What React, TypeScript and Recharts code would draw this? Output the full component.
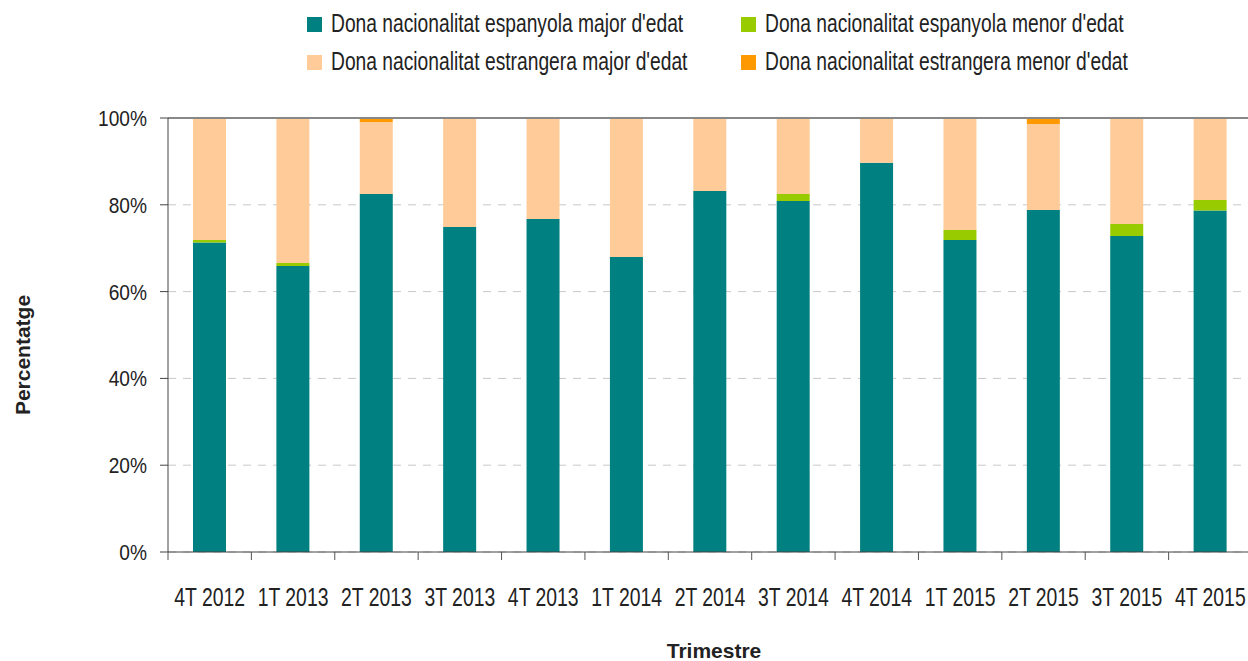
import React from "react";
import { BarChart, Bar, XAxis, YAxis, CartesianGrid, ReferenceLine } from "recharts";

const trimestres = ["4T 2012", "1T 2013", "2T 2013", "3T 2013", "4T 2013", "1T 2014", "2T 2014", "3T 2014", "4T 2014", "1T 2015", "2T 2015", "3T 2015", "4T 2015"];
const espMajor = [71.3, 65.9, 82.5, 74.9, 76.7, 68.0, 83.2, 80.9, 89.7, 71.9, 78.8, 72.8, 78.7];
const espMenor = [0.6, 0.7, 0, 0, 0, 0, 0, 1.6, 0, 2.3, 0, 2.8, 2.4];
const estMajor = [28.1, 33.4, 16.6, 25.1, 23.3, 32.0, 16.8, 17.5, 10.3, 25.8, 19.8, 24.4, 18.9];
const estMenor = [0, 0, 0.9, 0, 0, 0, 0, 0, 0, 0, 1.4, 0, 0];
const yTicks = [0, 20, 40, 60, 80, 100];

const series = [
  { key: "espMajor", name: "Dona nacionalitat espanyola major d'edat", color: "#008080" },
  { key: "espMenor", name: "Dona nacionalitat espanyola menor d'edat", color: "#99CC00" },
  { key: "estMajor", name: "Dona nacionalitat estrangera major d'edat", color: "#FFCC99" },
  { key: "estMenor", name: "Dona nacionalitat estrangera menor d'edat", color: "#FF9900" },
];

const data = trimestres.map((t, i) => ({
  t,
  espMajor: espMajor[i],
  espMenor: espMenor[i],
  estMajor: estMajor[i],
  estMenor: estMenor[i],
}));

// no Arial Narrow here, so squeeze Liberation Sans horizontally
const FONT = "'Liberation Sans', Arial, sans-serif";
const W = 1248;
const H = 661;
const CHART_W = 1252; // plot runs a little past the right edge in the original
const LEFT = 168;
const BAND = (CHART_W - LEFT) / trimestres.length;

// category ticks sit between bars, like the original
const XTick = (props: any) => {
  const { x, y, payload, index } = props;
  const left = x - BAND / 2;
  return (
    <g>
      <line x1={left} y1={y - 8} x2={left} y2={y} stroke="#555" strokeWidth={1} />
      {index === trimestres.length - 1 && (
        <line x1={left + BAND} y1={y - 8} x2={left + BAND} y2={y} stroke="#555" strokeWidth={1} />
      )}
      <text
        transform={`translate(${x},${y + 46}) scale(0.775,1)`}
        textAnchor="middle"
        fill="#222"
        fontSize={25}
        fontFamily={FONT}
      >
        {payload.value}
      </text>
    </g>
  );
};

const YTick = (props: any) => {
  const { y, payload } = props;
  return (
    <text
      transform={`translate(147,${y + 8}) scale(0.85,1)`}
      textAnchor="end"
      fill="#222"
      fontSize={22.5}
      fontFamily={FONT}
    >
      {`${payload.value}%`}
    </text>
  );
};

const legendPos = [
  { x: 307, y: 32 },
  { x: 741, y: 32 },
  { x: 307, y: 70 },
  { x: 741, y: 70 },
];

const App: React.FC = () => {
  return (
    <div style={{ position: "absolute", left: 0, top: 0, width: W, height: H, background: "#fff", fontFamily: FONT, overflow: "hidden" }}>
      <BarChart
        width={CHART_W}
        height={H}
        data={data}
        margin={{ top: 118, right: 0, left: 0, bottom: 79 }}
        barSize={33}
      >
        <CartesianGrid vertical={false} stroke="#c8c8c8" strokeDasharray="8 7" />
        <XAxis
          dataKey="t"
          interval={0}
          height={30}
          tickLine={false}
          axisLine={{ stroke: "#444" }}
          tick={<XTick />}
        />
        <YAxis
          width={LEFT}
          domain={[0, 100]}
          ticks={yTicks}
          axisLine={{ stroke: "#444" }}
          tickLine={{ stroke: "#444" }}
          tickSize={8}
          tick={<YTick />}
        />
        <ReferenceLine y={100} stroke="#888" strokeWidth={2} />
        {series.map((s) => (
          <Bar key={s.key} dataKey={s.key} stackId="a" fill={s.color} isAnimationActive={false} />
        ))}
      </BarChart>

      {/* legend */}
      <svg width={W} height={90} style={{ position: "absolute", left: 0, top: 0 }}>
        {series.map((s, i) => (
          <g key={s.key}>
            <rect x={legendPos[i].x} y={legendPos[i].y - 15} width={15} height={15} fill={s.color} />
            <text
              transform={`translate(${legendPos[i].x + 24},${legendPos[i].y}) scale(0.74,1)`}
              fill="#222"
              fontSize={26}
              fontFamily={FONT}
            >
              {s.name}
            </text>
          </g>
        ))}
      </svg>

      {/* axis titles */}
      <div
        style={{ position: "absolute", left: 22, top: 355, transform: "translate(-50%, -50%) rotate(-90deg)", fontWeight: "bold", fontSize: 21, lineHeight: 1, color: "#222", whiteSpace: "nowrap" }}
      >
        Percentatge
      </div>
      <div
        style={{ position: "absolute", left: 714, top: 650, transform: "translate(-50%, -50%)", fontWeight: "bold", fontSize: 21, lineHeight: 1, color: "#222", whiteSpace: "nowrap" }}
      >
        Trimestre
      </div>
    </div>
  );
};

export default App;
